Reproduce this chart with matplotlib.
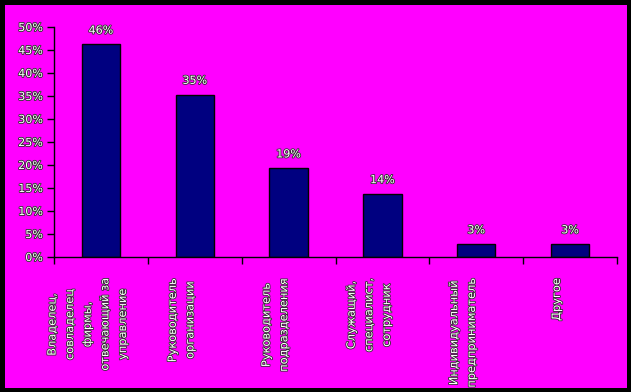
import matplotlib
matplotlib.use('Agg')
import matplotlib.pyplot as plt
import matplotlib.patheffects as pe
from matplotlib.patches import Rectangle

categories = ['Владелец,\nсовладелец\nфирмы,\nотвечающий за\nуправление',
              'Руководитель\nорганизации',
              'Руководитель\nподразделения',
              'Служащий,\nспециалист,\nсотрудник',
              'Индивидуальный\nпредприниматель',
              'Другое']
values = [46.2, 35.3, 19.3, 13.7, 2.8, 2.8]
value_labels = ['46%', '35%', '19%', '14%', '3%', '3%']
y_ticks = [0, 5, 10, 15, 20, 25, 30, 35, 40, 45, 50]

W, H = 631, 392
fig = plt.figure(figsize=(W / 100, H / 100), dpi=100)
fig.patch.set_facecolor('black')
fig.patches.append(Rectangle((5 / W, 4 / H), 622 / W, 383 / H,
                             transform=fig.transFigure, facecolor='#ff00ff',
                             edgecolor='none', zorder=-10))

ax = fig.add_axes([54 / W, 135 / H, 563 / W, 230 / H])
ax.set_facecolor('none')

txt_fx = [pe.withStroke(linewidth=1.2, foreground='#303030')]
font = 'DejaVu Sans'

x = range(len(values))
ax.bar(x, values, width=0.41, color='#000080', edgecolor='black', linewidth=1, zorder=2)

for i, (v, lab) in enumerate(zip(values, value_labels)):
    ax.text(i, v + 3.0, lab, ha='center', va='center', fontsize=8, color='white',
            family=font, path_effects=txt_fx)

for i, lab in enumerate(categories):
    ax.text(i - 0.14, -4.6, lab, rotation=90, ha='center', va='top',
            multialignment='center', linespacing=1.95, fontsize=8.2,
            color='white', family=font, path_effects=txt_fx)

ax.set_xlim(-0.5, 5.5)
ax.set_ylim(0, 50)
ax.set_yticks(y_ticks)
ax.set_yticklabels([f'{t}%' for t in y_ticks], fontsize=8, color='white',
                   family=font)
for t in ax.get_yticklabels():
    t.set_path_effects(txt_fx)
ax.set_xticks([i - 0.5 for i in range(len(values) + 1)])
ax.set_xticklabels([])
ax.tick_params(axis='both', direction='out', length=5, width=1, color='black')
ax.tick_params(axis='y', pad=3)

for s in ['top', 'right']:
    ax.spines[s].set_visible(False)
for s in ['left', 'bottom']:
    ax.spines[s].set_color('black')
    ax.spines[s].set_linewidth(1)

fig.savefig('out.png', dpi=100, facecolor=fig.get_facecolor())
